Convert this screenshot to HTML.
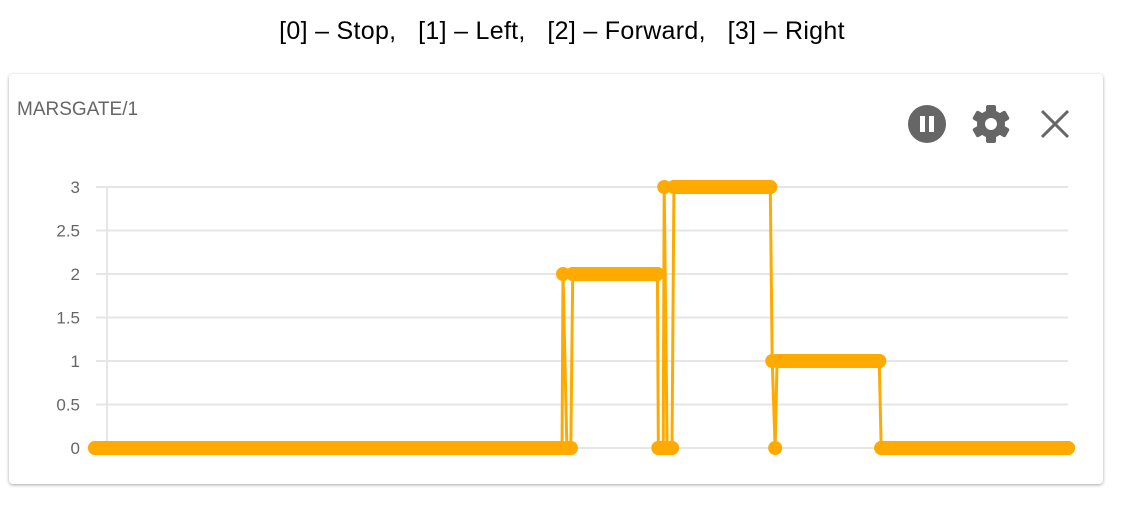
<!DOCTYPE html>
<html><head><meta charset="utf-8"><style>
html,body{margin:0;padding:0;background:#fff;width:1122px;height:511px;overflow:hidden;font-family:"Liberation Sans",sans-serif}
#title{position:absolute;left:0;width:1124px;top:17px;text-align:center;font-size:25px;color:#000;white-space:pre;letter-spacing:0.3px}
#card{position:absolute;left:9px;top:74px;width:1094px;height:410px;background:#fff;border-radius:4px;box-shadow:0 1px 3px rgba(0,0,0,.35)}
#name{position:absolute;left:17px;top:99px;font-size:19px;color:#666}
svg{position:absolute;left:0;top:0}
</style></head><body>
<div id="title">[0] – Stop,   [1] – Left,   [2] – Forward,   [3] – Right</div>
<div id="card"></div>
<div id="name">MARSGATE/1</div>
<svg width="1122" height="511" id="svg">
 <g>
  <circle cx="927" cy="124" r="19" fill="#666"/>
  <rect x="920" y="116" width="5" height="16" fill="#fff"/><rect x="929" y="116" width="5" height="16" fill="#fff"/>
 </g>
 <g transform="translate(991,124)">
  <g fill="#666">
   <rect x="-5" y="-19" width="10" height="38" rx="2"/>
   <rect x="-5" y="-19" width="10" height="38" rx="2" transform="rotate(60)"/>
   <rect x="-5" y="-19" width="10" height="38" rx="2" transform="rotate(120)"/>
   <circle r="14"/>
  </g>
  <circle r="6" fill="#fff"/>
 </g>
 <g stroke="#666" stroke-width="3">
  <line x1="1042" y1="111" x2="1068" y2="137"/><line x1="1068" y1="111" x2="1042" y2="137"/>
 </g>
 <g id="plot"></g>
</svg>
<script>
const yTicks=[0,0.5,1,1.5,2,2.5,3];
const yLabels=["0","0.5","1","1.5","2","2.5","3"];
const times=[0,48.0,48.1,48.5,48.9,49.1,57.8,57.9,58.4,58.5,58.8,59.3,59.5,69.4,69.6,69.9,70.1,80.6,80.8,100];
const values=[0,0,2,0,0,2,2,0,0,3,0,0,3,3,1,0,1,1,0,0];
const X0=95,X1=1068,Y0=448,Y3=187;
const xs=t=>X0+(t/100)*(X1-X0);
const ys=v=>Y0-(v/3)*(Y0-Y3);
const NS="http://www.w3.org/2000/svg";
const g=document.getElementById('plot');
function mk(tag,attrs){const e=document.createElementNS(NS,tag);for(const k in attrs)e.setAttribute(k,attrs[k]);g.appendChild(e);return e;}
yTicks.forEach((v,i)=>{
 const l=mk('line',{x1:96,x2:1068,y1:ys(v),y2:ys(v),stroke:'#e6e6e6','stroke-width':2});
 
 
 const t=mk('text',{x:80,y:ys(v)+6,'text-anchor':'end','font-size':17,fill:'#666','font-family':'Liberation Sans, sans-serif'});
 t.textContent=yLabels[i];
 
 
});
const ax=mk('line',{x1:107,x2:107,y1:ys(3),y2:Y0,stroke:'#e6e6e6','stroke-width':2});


const pts=times.map((t,i)=>xs(t)+','+ys(values[i])).join(' ');
const pl=mk('polyline',{points:pts,fill:'none',stroke:'#ffaa00','stroke-width':3});


for(let i=0;i<times.length-1;i++){
 if(values[i]===values[i+1]){
  const r=mk('line',{x1:xs(times[i]),x2:xs(times[i+1]),y1:ys(values[i]),y2:ys(values[i]),stroke:'#ffaa00','stroke-width':14,'stroke-linecap':'round'});
  
  
 }
}
times.forEach((t,i)=>{
 const c=mk('circle',{cx:xs(t),cy:ys(values[i]),r:7,fill:'#ffaa00'});
 
 
});
</script>
</body></html>
